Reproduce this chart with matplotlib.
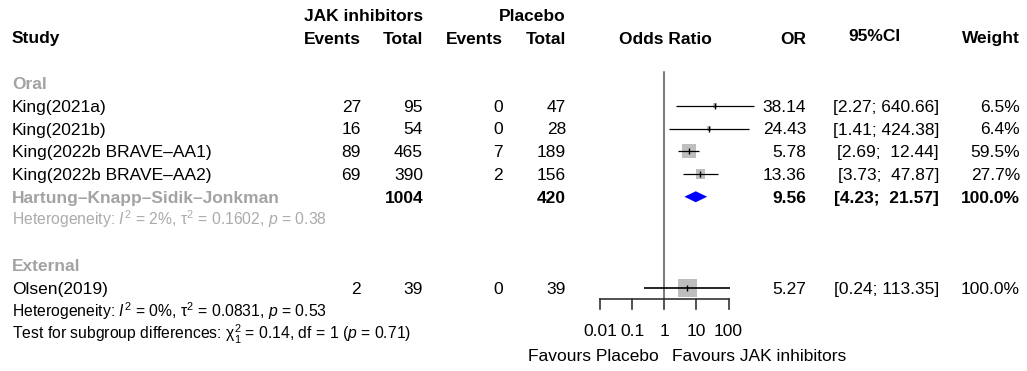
import matplotlib
matplotlib.use("Agg")
import matplotlib.pyplot as plt
import numpy as np

# ---- data ----
oral_studies = ["King(2021a)", "King(2021b)", "King(2022b BRAVE–AA1)", "King(2022b BRAVE–AA2)"]
oral_events_jak = [27, 16, 89, 69]
oral_total_jak = [95, 54, 465, 390]
oral_events_pbo = [0, 0, 7, 2]
oral_total_pbo = [47, 28, 189, 156]
oral_or = [38.14, 24.43, 5.78, 13.36]
oral_lo = [2.27, 1.41, 2.69, 3.73]
oral_hi = [640.66, 424.38, 12.44, 47.87]
oral_weight = [6.5, 6.4, 59.5, 27.7]
oral_ci_text = ["[2.27; 640.66]", "[1.41; 424.38]", "[2.69;  12.44]", "[3.73;  47.87]"]

pooled_total_jak = 1004
pooled_total_pbo = 420
pooled_or = 9.56
pooled_lo = 4.23
pooled_hi = 21.57
pooled_ci_text = "[4.23;  21.57]"

ext_studies = ["Olsen(2019)"]
ext_events_jak = [2]
ext_total_jak = [39]
ext_events_pbo = [0]
ext_total_pbo = [39]
ext_or = [5.27]
ext_lo = [0.24]
ext_hi = [113.35]
ext_weight = [100.0]
ext_ci_text = ["[0.24; 113.35]"]

axis_ticks = [0.01, 0.1, 1, 10, 100]
axis_tick_labels = ["0.01", "0.1", "1", "10", "100"]

# ---- style ----
plt.rcParams["font.family"] = ["Liberation Sans", "DejaVu Sans"]
plt.rcParams["mathtext.fontset"] = "custom"
plt.rcParams["mathtext.rm"] = "Liberation Sans"
plt.rcParams["mathtext.it"] = "Liberation Sans:italic"
plt.rcParams["mathtext.bf"] = "Liberation Sans:bold"
FS = 12.5
FS_SMALL = 11.3
GREY = "#a3a3a3"
GREY_LIGHT = "#ababab"

W, H = 1027, 371
fig = plt.figure(figsize=(W / 100, H / 100), dpi=100)
ax = fig.add_axes([0, 0, 1, 1])
ax.set_xlim(0, W)
ax.set_ylim(H, 0)
ax.axis("off")

# log-scaled forest panel: x = 1 sits at px 664.3, 32.1 px per decade
x_one, dec = 664.3, 32.1
lo_dec, hi_dec = -3.0, 3.5
L = x_one + lo_dec * dec
R = x_one + hi_dec * dec
fa = fig.add_axes([L / W, 0, (R - L) / W, 1])
fa.set_xscale("log")
fa.set_xlim(10 ** lo_dec, 10 ** hi_dec)
fa.set_ylim(H, 0)
fa.axis("off")
fa.patch.set_alpha(0)

ROW0, STEP = 83.0, 22.75
def ry(i):
    return ROW0 + STEP * i

BASE = 6.0  # baseline offset below row centre

def txt(x, i, s, ha="left", color="black", bold=False, size=FS, **kw):
    ax.text(x, ry(i) + BASE, s, ha=ha, va="baseline", fontsize=size, color=color,
            fontweight="bold" if bold else "normal", **kw)

# column anchors (px)
X_STUDY = 12
X_EJ, X_TJ, X_EP, X_TP = 361, 423, 503, 566
X_ORH = 665
X_OR, X_CI, X_CIH, X_W = 806, 939, 874, 1020

# headers
txt(X_TJ, -3, "JAK inhibitors", ha="right", bold=True)
txt(X_TP, -3, "Placebo", ha="right", bold=True)
txt(X_STUDY, -2, "Study", bold=True)
txt(X_EJ, -2, "Events", ha="right", bold=True)
txt(X_TJ, -2, "Total", ha="right", bold=True)
txt(X_EP, -2, "Events", ha="right", bold=True)
txt(X_TP, -2, "Total", ha="right", bold=True)
txt(X_ORH, -2, "Odds Ratio", ha="center", bold=True)
txt(X_OR, -2, "OR", ha="right", bold=True)
txt(X_CIH, -2.1, "95%CI", ha="center", bold=True)
txt(X_W, -2, "Weight", ha="right", bold=True)

SQ_FULL = 18.5  # px side of a 100% weight box

def study_row(i, name, ej, tj, ep, tp, orv, lo, hi, w, ci_s, lw=0.9):
    txt(X_STUDY, i, name)
    txt(X_EJ, i, str(ej), ha="right")
    txt(X_TJ, i, str(tj), ha="right")
    txt(X_EP, i, str(ep), ha="right")
    txt(X_TP, i, str(tp), ha="right")
    txt(X_OR, i, f"{orv:.2f}", ha="right")
    txt(X_CI, i, ci_s, ha="right")
    txt(X_W, i, f"{w:.1f}%", ha="right")
    side_pt = SQ_FULL * np.sqrt(w / 100.0) * 0.72
    fa.scatter([orv], [ry(i)], marker="s", s=side_pt ** 2, color="#bebebe",
               edgecolors="none", zorder=2, clip_on=False)
    fa.plot([lo, hi], [ry(i), ry(i)], color="black", lw=lw, zorder=3,
            solid_capstyle="butt", clip_on=False)
    fa.plot([orv], [ry(i)], marker="|", color="black", ms=5, mew=1.0,
            zorder=4, clip_on=False)

# Oral subgroup
txt(X_STUDY, 0, "Oral", color=GREY, bold=True)
for k in range(len(oral_studies)):
    study_row(1 + k, oral_studies[k], oral_events_jak[k], oral_total_jak[k],
              oral_events_pbo[k], oral_total_pbo[k], oral_or[k], oral_lo[k],
              oral_hi[k], oral_weight[k], oral_ci_text[k])

txt(X_STUDY, 5, "Hartung–Knapp–Sidik–Jonkman", color=GREY, bold=True)
txt(X_TJ, 5, str(pooled_total_jak), ha="right", bold=True)
txt(X_TP, 5, str(pooled_total_pbo), ha="right", bold=True)
txt(X_OR, 5, f"{pooled_or:.2f}", ha="right", bold=True)
txt(X_CI, 5, pooled_ci_text, ha="right", bold=True)
txt(X_W, 5, "100.0%", ha="right", bold=True)
hd = 5.5
fa.fill([pooled_lo, pooled_or, pooled_hi, pooled_or],
        [ry(5), ry(5) - hd, ry(5), ry(5) + hd], color="#0000ff", lw=0,
        zorder=3, clip_on=False)
txt(X_STUDY, 6, r"Heterogeneity: $I^2$ = 2%, τ$^2$ = 0.1602, $p$ = 0.38",
    color=GREY_LIGHT, size=FS_SMALL)

# External subgroup
txt(X_STUDY, 8, "External", color=GREY, bold=True)
for k in range(len(ext_studies)):
    study_row(9 + k, ext_studies[k], ext_events_jak[k], ext_total_jak[k],
              ext_events_pbo[k], ext_total_pbo[k], ext_or[k], ext_lo[k],
              ext_hi[k], ext_weight[k], ext_ci_text[k], lw=1.2)
txt(X_STUDY, 10, r"Heterogeneity: $I^2$ = 0%, τ$^2$ = 0.0831, $p$ = 0.53",
    size=FS_SMALL)
txt(X_STUDY, 11, r"Test for subgroup differences: χ$^2_1$ = 0.14, df = 1 ($p$ = 0.71)",
    size=FS_SMALL)

# reference line at OR = 1 and the log axis
y_axis = ry(9.5)
fa.plot([1, 1], [72, y_axis], color="#555555", lw=1.1, zorder=1, clip_on=False)
fa.plot([axis_ticks[0], axis_ticks[-1]], [y_axis, y_axis], color="#333333",
        lw=1.2, clip_on=False)
for t, lab in zip(axis_ticks, axis_tick_labels):
    fa.plot([t, t], [y_axis, y_axis + 10], color="#333333", lw=1.2, clip_on=False)
    fa.text(t, 330 + BASE, lab, ha="center", va="baseline", fontsize=FS,
            clip_on=False)

ax.text(x_one - 6, 355 + BASE, "Favours Placebo", ha="right", va="baseline", fontsize=FS)
ax.text(x_one + 8, 355 + BASE, "Favours JAK inhibitors", ha="left", va="baseline", fontsize=FS)

fig.savefig("out.png", dpi=100)
